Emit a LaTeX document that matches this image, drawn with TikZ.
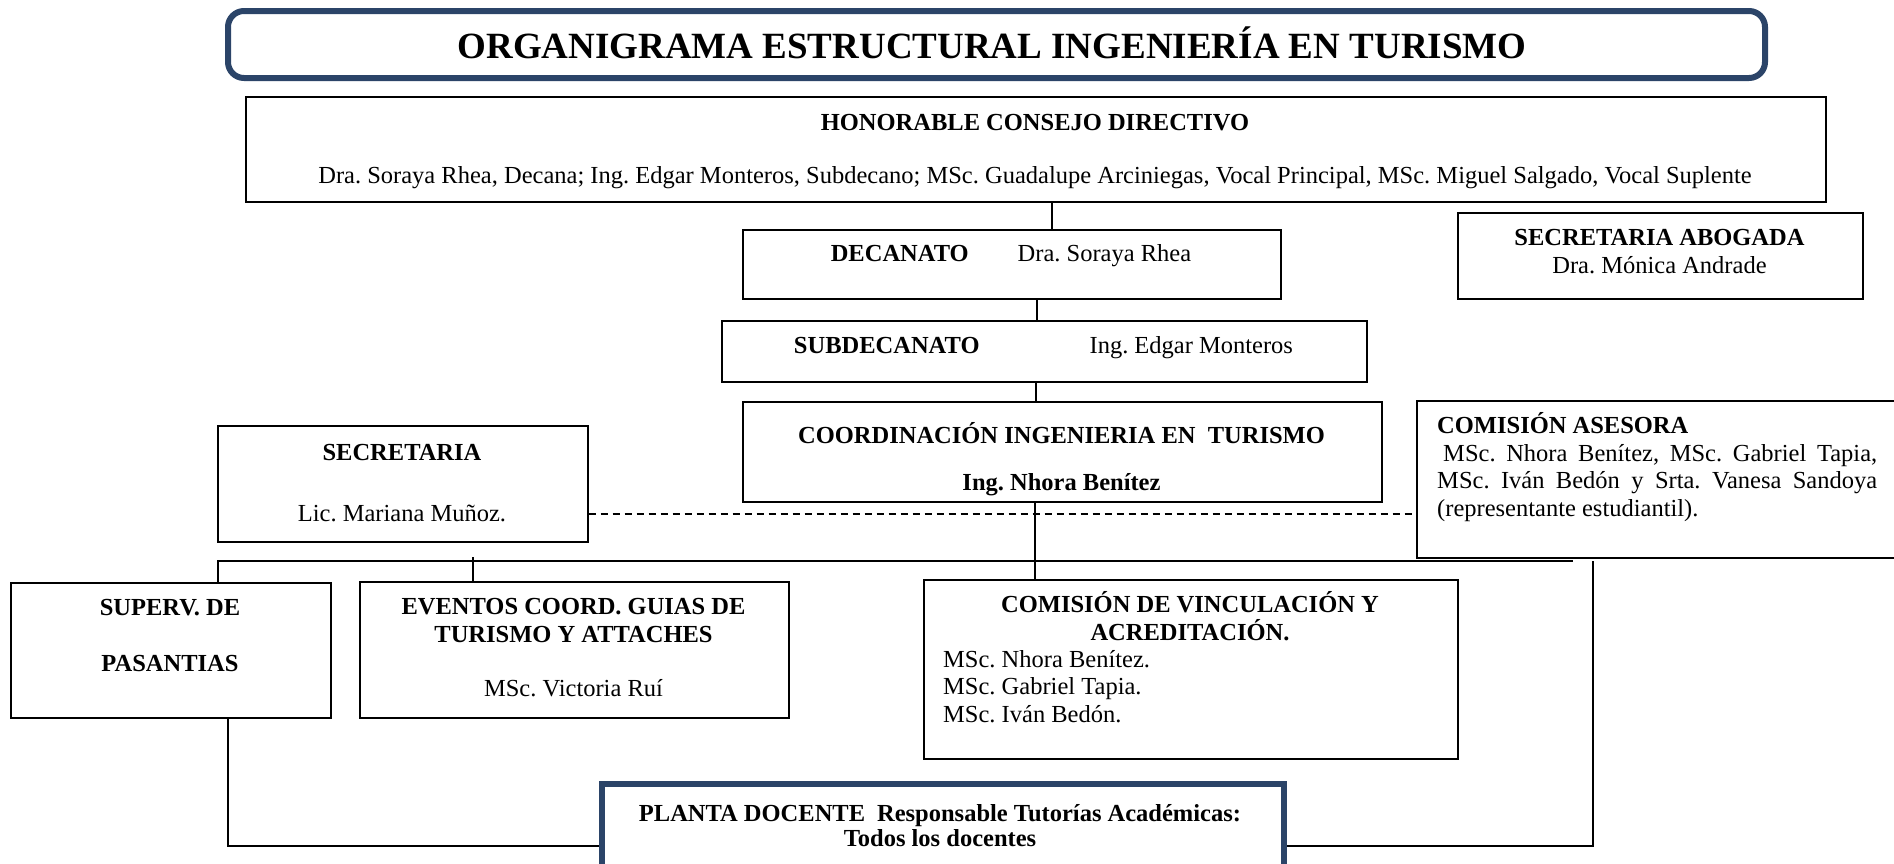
\documentclass[tikz,border=0pt]{standalone}
\usepackage{fontspec}
\setmainfont{Liberation Serif}
\usetikzlibrary{positioning}
\definecolor{azul}{RGB}{43,68,104}
\newcommand{\cuerpo}{\fontsize{24.5}{27.5}\selectfont\frenchspacing}

\begin{document}
\begin{tikzpicture}[x=1pt, y=-1pt,
    caja/.style={draw, line width=1.6pt, rectangle, anchor=north west, inner sep=0pt},
    marco/.style={draw=azul, line width=6pt, rectangle, anchor=north west, inner sep=0pt},
    txt/.style={anchor=base, inner sep=0pt, align=center, font=\cuerpo},
    linea/.style={line width=1.6pt}]
    \useasboundingbox[fill=white] (0,0) rectangle (1894,863);
    \clip (0,0) rectangle (1894,863);

    \node[marco, rounded corners=16pt, minimum width=1537pt, minimum height=67pt] (titulo) at (225,8) {};
    \node[txt, font=\fontsize{37}{40}\selectfont\bfseries] (tituloT) at (992,58) {ORGANIGRAMA ESTRUCTURAL INGENIERÍA EN TURISMO};

    \node[caja, minimum width=1580pt, minimum height=105pt] (consejo) at (245,96) {};
    \node[txt] (consejoT) at (1035,183) {\textbf{HONORABLE CONSEJO DIRECTIVO}\\[25.5pt]
        Dra. Soraya Rhea, Decana; Ing. Edgar Monteros, Subdecano; MSc. Guadalupe Arciniegas, Vocal Principal, MSc. Miguel Salgado, Vocal Suplente};

    \node[caja, minimum width=538pt, minimum height=69pt] (dec) at (742,229) {};
    \node[txt] (decT) at (1011,261) {\textbf{DECANATO}\hspace{49pt}Dra. Soraya Rhea};

    \node[caja, minimum width=405pt, minimum height=86pt] (secab) at (1457,212) {};
    \node[txt] (secabT) at (1659.5,273) {\textbf{SECRETARIA ABOGADA}\\Dra. Mónica Andrade};

    \node[caja, minimum width=645pt, minimum height=61pt] (subdec) at (721,320) {};
    \node[txt] (subdecT) at (1043.5,353) {\textbf{SUBDECANATO}\hspace{110pt}Ing. Edgar Monteros};

    \node[caja, minimum width=639pt, minimum height=100pt] (coord) at (742,401) {};
    \node[txt, font=\cuerpo\bfseries] (coordT) at (1061.5,490) {COORDINACIÓN INGENIERIA EN\ \ TURISMO\\[19.5pt]Ing. Nhora Benítez};

    \node[caja, minimum width=484pt, minimum height=157pt] (ca) at (1416,400) {};
    \node[txt, anchor=base west, align=left] (caT) at (1437,516) {\textbf{COMISIÓN ASESORA}\\
        \makebox[440pt][s]{\hspace{6pt}MSc. Nhora Benítez, MSc. Gabriel Tapia,}\\
        \makebox[440pt][s]{MSc. Iván Bedón y Srta. Vanesa Sandoya}\\
        (representante estudiantil).};

    \node[caja, minimum width=370pt, minimum height=116pt] (sec) at (217,425) {};
    \node[txt] (secT) at (402,521) {\textbf{SECRETARIA}\\[33.5pt]Lic. Mariana Muñoz.};

    \node[caja, minimum width=320pt, minimum height=135pt] (superv) at (10,582) {};
    \node[txt, font=\cuerpo\bfseries] (supervT) at (170,671) {SUPERV. DE\\[28.5pt]PASANTIAS};

    \node[caja, minimum width=429pt, minimum height=136pt] (ev) at (359,581) {};
    \node[txt] (evT) at (573.5,696) {\textbf{EVENTOS COORD. GUIAS DE}\\\textbf{TURISMO Y ATTACHES}\\[26.5pt]MSc. Victoria Ruí};

    \node[caja, minimum width=534pt, minimum height=179pt] (vinc) at (923,579) {};
    \node[txt, font=\cuerpo\bfseries] (vincT) at (1190,640) {COMISIÓN DE VINCULACIÓN Y\\ACREDITACIÓN.};
    \node[txt, anchor=base west, align=left] (vincN) at (943,722) {MSc. Nhora Benítez.\\MSc. Gabriel Tapia.\\MSc. Iván Bedón.};

    \node[marco, minimum width=682pt, minimum height=124pt] (planta) at (599,781) {};
    \node[txt, font=\cuerpo\bfseries] (plantaT) at (940,846) {PLANTA DOCENTE\hspace{12pt}Responsable Tutorías Académicas:\\[-2.5pt]Todos los docentes};

    \coordinate (busfin) at (1573,561);
    \coordinate (evtop) at (473,557);
    \coordinate (caabajo) at (1593,561);

    \draw[linea] ([xshift=16pt]consejo.south) -- ([xshift=40pt]dec.north);
    \draw[linea] ([xshift=25pt]dec.south) -- ([xshift=-7.5pt]subdec.north);
    \draw[linea] ([xshift=-8.5pt]subdec.south) -- ([xshift=-26.5pt]coord.north);
    \draw[linea] ([xshift=-27.5pt]coord.south) -- ([xshift=-156pt]vinc.north);
    \draw[line width=2.4pt] ([xshift=47pt]superv.north) |- (busfin);
    \draw[linea] (evtop) -- (evtop |- ev.north);
    \draw[linea, dash pattern=on 7pt off 5pt] ([yshift=-30pt]sec.east) -- ([yshift=-30pt]sec.east -| ca.west);
    \draw[linea] ([xshift=57pt]superv.south) |- (planta.west);
    \draw[linea] (caabajo) |- (planta.east);
\end{tikzpicture}
\end{document}
